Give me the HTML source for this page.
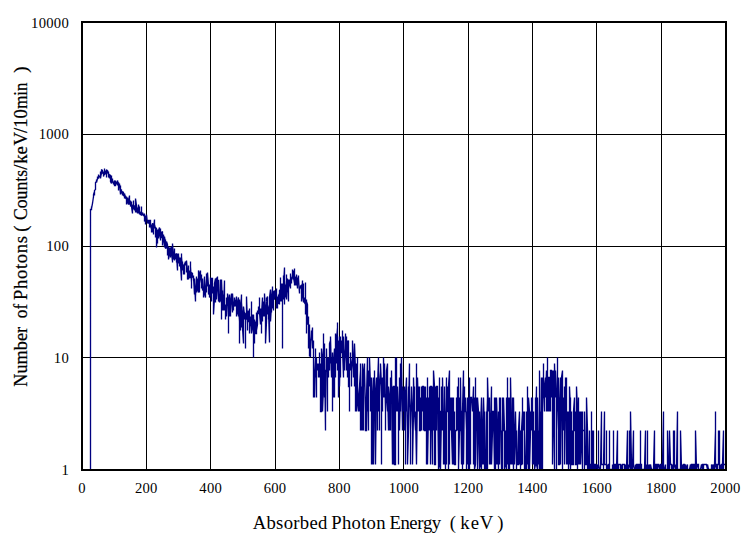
<!DOCTYPE html><html><head><meta charset="utf-8"><title>Spectrum</title><style>
html,body{margin:0;padding:0;background:#fff;}body{width:749px;height:556px;position:relative;overflow:hidden;font-family:"Liberation Serif",serif;color:#000;}
.t{position:absolute;white-space:pre;line-height:1;font-kerning:none;}
.yl{font-size:14.67px;letter-spacing:0.25px;text-align:right;width:60px;left:9px;}
.xl{font-size:14.67px;letter-spacing:0.25px;text-align:center;width:60px;}
.ti{font-size:18.67px;}.yt{-webkit-text-stroke:0.22px #000;left:0;top:0;transform-origin:0 0;}
</style></head><body>
<svg width="749" height="556" viewBox="0 0 749 556" style="position:absolute;left:0;top:0">
<rect x="0" y="0" width="749" height="556" fill="#fff"/>
<rect x="146" y="22" width="1" height="448" fill="#000"/>
<rect x="210" y="22" width="1" height="448" fill="#000"/>
<rect x="275" y="22" width="1" height="448" fill="#000"/>
<rect x="339" y="22" width="1" height="448" fill="#000"/>
<rect x="403" y="22" width="1" height="448" fill="#000"/>
<rect x="468" y="22" width="1" height="448" fill="#000"/>
<rect x="532" y="22" width="1" height="448" fill="#000"/>
<rect x="596" y="22" width="1" height="448" fill="#000"/>
<rect x="661" y="22" width="1" height="448" fill="#000"/>
<rect x="82" y="134" width="644" height="1" fill="#000"/>
<rect x="82" y="246" width="644" height="1" fill="#000"/>
<rect x="82" y="357" width="644" height="1" fill="#000"/>
<path d="M90.5 469.5L90.5 209.5L91.5 209.5L91.5 207.5L91.5 206.5L91.5 208.5L92.5 203.5L92.5 202.5L92.5 203.5L93.5 196.5L93.5 197.5L93.5 195.5L93.5 194.5L94.5 191.5L94.5 195.5L94.5 190.5L95.5 189.5L95.5 187.5L95.5 188.5L95.5 182.5L96.5 181.5L96.5 179.5L96.5 182.5L97.5 178.5L97.5 179.5L97.5 178.5L97.5 176.5L98.5 178.5L98.5 174.5L98.5 178.5L99.5 175.5L99.5 176.5L100.5 176.5L100.5 175.5L100.5 171.5L100.5 178.5L101.5 172.5L101.5 174.5L101.5 169.5L102.5 170.5L102.5 173.5L102.5 171.5L102.5 173.5L103.5 172.5L103.5 171.5L103.5 176.5L104.5 173.5L104.5 168.5L104.5 170.5L104.5 174.5L105.5 173.5L105.5 170.5L106.5 173.5L106.5 171.5L106.5 177.5L106.5 169.5L107.5 171.5L107.5 173.5L107.5 170.5L108.5 174.5L108.5 171.5L108.5 177.5L108.5 172.5L109.5 178.5L109.5 176.5L109.5 174.5L110.5 175.5L110.5 178.5L110.5 175.5L110.5 181.5L111.5 183.5L111.5 175.5L111.5 180.5L112.5 178.5L112.5 180.5L112.5 181.5L113.5 183.5L113.5 181.5L113.5 184.5L114.5 180.5L114.5 181.5L114.5 183.5L114.5 185.5L115.5 185.5L115.5 180.5L115.5 184.5L116.5 183.5L116.5 181.5L116.5 184.5L116.5 182.5L117.5 183.5L117.5 185.5L117.5 180.5L118.5 185.5L118.5 190.5L118.5 182.5L119.5 187.5L119.5 186.5L119.5 183.5L120.5 194.5L120.5 185.5L120.5 190.5L121.5 189.5L121.5 193.5L121.5 191.5L122.5 194.5L122.5 193.5L122.5 195.5L122.5 191.5L123.5 192.5L123.5 195.5L124.5 196.5L124.5 198.5L124.5 196.5L124.5 193.5L125.5 198.5L125.5 195.5L125.5 197.5L126.5 199.5L126.5 196.5L126.5 202.5L126.5 204.5L127.5 197.5L127.5 201.5L128.5 204.5L128.5 198.5L128.5 201.5L129.5 195.5L129.5 200.5L129.5 204.5L130.5 201.5L130.5 200.5L130.5 206.5L131.5 204.5L131.5 206.5L131.5 201.5L131.5 206.5L132.5 213.5L132.5 206.5L132.5 205.5L133.5 204.5L133.5 200.5L133.5 209.5L133.5 206.5L134.5 205.5L134.5 210.5L134.5 209.5L135.5 209.5L135.5 212.5L135.5 198.5L136.5 205.5L136.5 212.5L136.5 205.5L137.5 213.5L137.5 209.5L137.5 207.5L138.5 212.5L138.5 213.5L138.5 204.5L139.5 210.5L139.5 206.5L139.5 214.5L139.5 211.5L140.5 212.5L140.5 213.5L140.5 214.5L141.5 214.5L141.5 212.5L141.5 206.5L141.5 215.5L142.5 214.5L142.5 212.5L143.5 215.5L144.5 216.5L144.5 213.5L144.5 221.5L145.5 217.5L145.5 224.5L145.5 215.5L145.5 217.5L146.5 218.5L146.5 217.5L146.5 214.5L147.5 223.5L147.5 220.5L147.5 221.5L148.5 223.5L148.5 221.5L148.5 220.5L149.5 220.5L149.5 225.5L149.5 227.5L149.5 220.5L150.5 220.5L150.5 227.5L150.5 224.5L151.5 229.5L151.5 228.5L151.5 232.5L151.5 226.5L152.5 223.5L152.5 232.5L152.5 223.5L153.5 224.5L153.5 234.5L153.5 229.5L154.5 219.5L154.5 228.5L154.5 224.5L155.5 228.5L155.5 230.5L155.5 237.5L155.5 227.5L156.5 228.5L156.5 238.5L156.5 247.5L157.5 229.5L157.5 243.5L157.5 230.5L158.5 238.5L158.5 234.5L158.5 235.5L158.5 230.5L159.5 227.5L159.5 236.5L159.5 232.5L160.5 239.5L160.5 228.5L160.5 240.5L160.5 237.5L161.5 237.5L161.5 232.5L162.5 231.5L162.5 241.5L162.5 245.5L162.5 244.5L163.5 234.5L163.5 238.5L163.5 234.5L164.5 247.5L164.5 244.5L164.5 238.5L164.5 236.5L165.5 243.5L165.5 239.5L165.5 248.5L166.5 247.5L166.5 241.5L166.5 246.5L166.5 241.5L167.5 244.5L167.5 247.5L167.5 255.5L168.5 246.5L168.5 257.5L168.5 256.5L168.5 259.5L169.5 253.5L169.5 247.5L169.5 249.5L170.5 247.5L170.5 257.5L170.5 250.5L170.5 248.5L171.5 248.5L171.5 246.5L171.5 252.5L172.5 261.5L172.5 262.5L172.5 255.5L172.5 243.5L173.5 256.5L173.5 259.5L173.5 252.5L174.5 260.5L174.5 259.5L174.5 248.5L174.5 259.5L175.5 258.5L175.5 256.5L175.5 254.5L176.5 253.5L176.5 261.5L176.5 262.5L176.5 255.5L177.5 270.5L177.5 253.5L177.5 259.5L178.5 253.5L178.5 263.5L178.5 253.5L178.5 255.5L179.5 262.5L179.5 257.5L179.5 266.5L180.5 258.5L180.5 257.5L180.5 261.5L180.5 264.5L181.5 280.5L181.5 253.5L181.5 256.5L182.5 268.5L182.5 261.5L182.5 270.5L183.5 264.5L183.5 274.5L183.5 269.5L184.5 263.5L184.5 264.5L184.5 274.5L184.5 264.5L185.5 261.5L185.5 265.5L185.5 262.5L186.5 263.5L186.5 272.5L186.5 260.5L187.5 272.5L187.5 270.5L187.5 273.5L187.5 279.5L188.5 274.5L188.5 265.5L188.5 279.5L189.5 273.5L189.5 270.5L189.5 277.5L190.5 277.5L190.5 261.5L190.5 266.5L191.5 282.5L191.5 276.5L191.5 288.5L191.5 272.5L192.5 273.5L192.5 274.5L192.5 276.5L193.5 278.5L193.5 280.5L193.5 275.5L193.5 276.5L194.5 294.5L194.5 278.5L194.5 282.5L195.5 301.5L195.5 292.5L195.5 286.5L195.5 296.5L196.5 276.5L196.5 283.5L196.5 292.5L197.5 278.5L197.5 283.5L197.5 282.5L197.5 288.5L198.5 292.5L198.5 288.5L198.5 270.5L199.5 273.5L199.5 282.5L199.5 292.5L199.5 279.5L200.5 276.5L200.5 270.5L200.5 277.5L201.5 283.5L201.5 274.5L201.5 283.5L201.5 288.5L202.5 278.5L202.5 279.5L202.5 290.5L203.5 286.5L203.5 292.5L203.5 297.5L203.5 293.5L204.5 276.5L204.5 282.5L204.5 293.5L205.5 297.5L205.5 288.5L205.5 289.5L206.5 278.5L206.5 292.5L206.5 273.5L207.5 285.5L207.5 286.5L207.5 282.5L207.5 272.5L208.5 285.5L208.5 294.5L209.5 290.5L209.5 286.5L209.5 284.5L209.5 297.5L210.5 294.5L210.5 277.5L210.5 293.5L211.5 288.5L211.5 301.5L211.5 286.5L211.5 278.5L212.5 278.5L212.5 288.5L212.5 293.5L213.5 286.5L213.5 292.5L213.5 314.5L214.5 297.5L214.5 290.5L214.5 283.5L215.5 278.5L215.5 302.5L215.5 296.5L216.5 293.5L216.5 296.5L216.5 277.5L216.5 299.5L217.5 286.5L217.5 276.5L217.5 280.5L218.5 280.5L218.5 284.5L218.5 301.5L219.5 296.5L219.5 297.5L219.5 302.5L220.5 279.5L220.5 299.5L220.5 301.5L220.5 297.5L221.5 302.5L221.5 319.5L221.5 279.5L222.5 306.5L222.5 290.5L222.5 310.5L222.5 301.5L223.5 308.5L223.5 294.5L223.5 310.5L224.5 280.5L224.5 306.5L224.5 294.5L224.5 310.5L225.5 304.5L225.5 319.5L225.5 312.5L226.5 306.5L226.5 302.5L226.5 297.5L226.5 316.5L227.5 299.5L227.5 304.5L227.5 293.5L228.5 299.5L228.5 333.5L228.5 297.5L228.5 301.5L229.5 310.5L229.5 316.5L229.5 294.5L230.5 316.5L230.5 312.5L230.5 314.5L230.5 304.5L231.5 293.5L231.5 304.5L231.5 299.5L232.5 312.5L232.5 310.5L232.5 301.5L232.5 293.5L233.5 308.5L233.5 310.5L233.5 301.5L234.5 306.5L234.5 297.5L234.5 306.5L234.5 299.5L235.5 301.5L235.5 306.5L236.5 296.5L236.5 316.5L236.5 308.5L236.5 316.5L237.5 306.5L237.5 314.5L237.5 302.5L238.5 297.5L238.5 316.5L238.5 312.5L238.5 306.5L239.5 321.5L239.5 343.5L239.5 299.5L240.5 312.5L240.5 308.5L240.5 330.5L240.5 314.5L241.5 294.5L241.5 327.5L241.5 302.5L242.5 316.5L242.5 310.5L242.5 327.5L243.5 343.5L243.5 336.5L243.5 312.5L243.5 306.5L244.5 314.5L244.5 319.5L244.5 312.5L245.5 314.5L245.5 348.5L245.5 336.5L245.5 316.5L246.5 319.5L246.5 306.5L246.5 296.5L247.5 324.5L247.5 330.5L247.5 314.5L247.5 319.5L248.5 310.5L248.5 321.5L249.5 321.5L249.5 308.5L249.5 330.5L249.5 333.5L250.5 316.5L251.5 327.5L251.5 316.5L251.5 301.5L251.5 333.5L252.5 327.5L252.5 314.5L253.5 327.5L253.5 357.5L253.5 343.5L253.5 314.5L254.5 343.5L254.5 319.5L255.5 330.5L255.5 324.5L255.5 321.5L255.5 333.5L256.5 333.5L256.5 312.5L256.5 330.5L257.5 324.5L257.5 310.5L258.5 312.5L258.5 306.5L258.5 312.5L259.5 314.5L259.5 304.5L259.5 297.5L259.5 312.5L260.5 324.5L260.5 314.5L260.5 308.5L261.5 321.5L261.5 333.5L261.5 314.5L262.5 297.5L262.5 321.5L262.5 310.5L263.5 312.5L263.5 306.5L263.5 316.5L263.5 301.5L264.5 314.5L264.5 316.5L264.5 293.5L265.5 314.5L265.5 304.5L265.5 314.5L265.5 343.5L266.5 321.5L266.5 297.5L266.5 301.5L267.5 296.5L267.5 312.5L267.5 314.5L267.5 304.5L268.5 308.5L268.5 319.5L268.5 308.5L269.5 342.5L269.5 301.5L269.5 302.5L269.5 297.5L270.5 289.5L270.5 304.5L270.5 321.5L271.5 304.5L271.5 312.5L271.5 297.5L272.5 288.5L272.5 286.5L272.5 308.5L272.5 302.5L273.5 297.5L273.5 310.5L273.5 292.5L274.5 290.5L274.5 293.5L274.5 299.5L275.5 294.5L275.5 292.5L275.5 294.5L276.5 288.5L276.5 308.5L276.5 296.5L276.5 308.5L277.5 296.5L277.5 308.5L277.5 304.5L278.5 302.5L278.5 301.5L278.5 294.5L278.5 299.5L279.5 292.5L279.5 304.5L279.5 290.5L280.5 289.5L280.5 277.5L280.5 301.5L280.5 292.5L281.5 294.5L281.5 301.5L281.5 283.5L282.5 302.5L282.5 348.5L282.5 294.5L282.5 283.5L283.5 299.5L283.5 275.5L283.5 285.5L284.5 267.5L284.5 304.5L284.5 290.5L284.5 280.5L285.5 294.5L285.5 297.5L285.5 284.5L286.5 299.5L286.5 274.5L286.5 288.5L286.5 292.5L287.5 289.5L287.5 278.5L287.5 283.5L288.5 301.5L288.5 282.5L288.5 286.5L288.5 279.5L289.5 286.5L289.5 279.5L289.5 282.5L290.5 288.5L290.5 273.5L290.5 280.5L290.5 274.5L291.5 283.5L291.5 279.5L291.5 280.5L292.5 276.5L292.5 278.5L292.5 269.5L292.5 278.5L293.5 270.5L293.5 279.5L293.5 277.5L294.5 283.5L294.5 268.5L294.5 285.5L294.5 277.5L295.5 285.5L295.5 284.5L295.5 276.5L296.5 285.5L296.5 276.5L296.5 277.5L296.5 274.5L297.5 288.5L297.5 277.5L297.5 279.5L298.5 282.5L298.5 284.5L298.5 275.5L298.5 278.5L299.5 293.5L299.5 289.5L300.5 286.5L300.5 288.5L300.5 285.5L301.5 286.5L301.5 284.5L301.5 285.5L301.5 301.5L302.5 280.5L302.5 284.5L302.5 292.5L303.5 302.5L303.5 301.5L303.5 283.5L303.5 299.5L304.5 297.5L304.5 299.5L304.5 302.5L305.5 304.5L305.5 282.5L305.5 314.5L305.5 301.5L306.5 299.5L306.5 333.5L306.5 301.5L307.5 304.5L307.5 312.5L307.5 324.5L308.5 321.5L308.5 316.5L308.5 348.5L309.5 324.5L309.5 356.5L309.5 336.5L310.5 357.5L310.5 352.5L310.5 348.5L311.5 330.5L311.5 333.5L311.5 340.5L312.5 327.5L312.5 348.5L312.5 343.5L313.5 340.5L313.5 397.5L313.5 357.5L313.5 370.5L314.5 370.5L314.5 397.5L314.5 377.5L315.5 357.5L315.5 377.5L315.5 348.5L315.5 357.5L316.5 397.5L316.5 357.5L316.5 363.5L317.5 370.5L317.5 363.5L317.5 370.5L318.5 363.5L318.5 377.5L318.5 363.5L319.5 377.5L319.5 363.5L319.5 352.5L319.5 370.5L320.5 363.5L320.5 386.5L320.5 411.5L321.5 411.5L321.5 363.5L321.5 357.5L321.5 348.5L322.5 357.5L322.5 370.5L322.5 411.5L323.5 386.5L323.5 363.5L323.5 333.5L323.5 386.5L324.5 343.5L324.5 397.5L324.5 348.5L325.5 430.5L325.5 377.5L325.5 397.5L325.5 370.5L326.5 370.5L326.5 357.5L326.5 348.5L327.5 411.5L327.5 377.5L327.5 363.5L327.5 357.5L328.5 363.5L328.5 377.5L328.5 357.5L329.5 370.5L329.5 363.5L329.5 343.5L330.5 340.5L330.5 352.5L330.5 363.5L330.5 336.5L331.5 377.5L331.5 363.5L331.5 357.5L332.5 377.5L332.5 411.5L332.5 352.5L332.5 357.5L333.5 386.5L333.5 397.5L333.5 363.5L334.5 348.5L334.5 397.5L334.5 357.5L335.5 377.5L335.5 370.5L335.5 333.5L336.5 363.5L336.5 357.5L336.5 352.5L336.5 340.5L337.5 327.5L337.5 322.5L337.5 370.5L338.5 357.5L338.5 370.5L338.5 340.5L338.5 397.5L339.5 336.5L339.5 340.5L339.5 386.5L340.5 336.5L340.5 352.5L340.5 377.5L340.5 352.5L341.5 352.5L341.5 340.5L341.5 348.5L342.5 340.5L342.5 357.5L342.5 330.5L342.5 348.5L343.5 377.5L343.5 336.5L343.5 348.5L344.5 370.5L344.5 363.5L344.5 370.5L344.5 363.5L345.5 336.5L345.5 352.5L345.5 333.5L346.5 370.5L346.5 336.5L346.5 370.5L346.5 357.5L347.5 340.5L347.5 377.5L347.5 343.5L348.5 340.5L348.5 370.5L348.5 357.5L348.5 386.5L349.5 386.5L349.5 411.5L349.5 363.5L350.5 370.5L350.5 352.5L350.5 370.5L350.5 357.5L351.5 370.5L351.5 386.5L351.5 370.5L352.5 357.5L352.5 340.5L353.5 377.5L353.5 370.5L353.5 377.5L354.5 343.5L354.5 377.5L354.5 386.5L354.5 343.5L355.5 370.5L355.5 397.5L355.5 411.5L356.5 370.5L356.5 363.5L356.5 397.5L356.5 411.5L357.5 386.5L357.5 357.5L357.5 397.5L358.5 411.5L358.5 397.5L359.5 386.5L359.5 397.5L359.5 411.5L359.5 386.5L360.5 370.5L360.5 430.5L360.5 363.5L361.5 430.5L361.5 411.5L361.5 386.5L362.5 430.5L362.5 363.5L363.5 377.5L363.5 430.5L363.5 386.5L364.5 363.5L364.5 386.5L364.5 370.5L365.5 411.5L365.5 397.5L365.5 411.5L365.5 430.5L366.5 430.5L366.5 411.5L366.5 397.5L367.5 357.5L367.5 411.5L367.5 370.5L367.5 386.5L368.5 430.5L368.5 370.5L368.5 377.5L369.5 377.5L369.5 357.5L369.5 386.5L369.5 357.5L370.5 386.5L370.5 411.5L370.5 386.5L371.5 386.5L371.5 464.5L371.5 430.5L371.5 377.5L372.5 411.5L372.5 464.5L372.5 430.5L373.5 377.5L373.5 430.5L373.5 464.5L374.5 397.5L374.5 370.5L374.5 377.5L375.5 397.5L375.5 430.5L375.5 397.5L375.5 464.5L376.5 377.5L376.5 397.5L376.5 411.5L377.5 386.5L377.5 411.5L377.5 430.5L377.5 386.5L378.5 357.5L378.5 411.5L378.5 370.5L379.5 397.5L379.5 430.5L379.5 411.5L379.5 397.5L380.5 370.5L380.5 377.5L380.5 363.5L381.5 386.5L381.5 411.5L381.5 464.5L381.5 386.5L382.5 411.5L382.5 377.5L382.5 386.5L383.5 397.5L383.5 363.5L383.5 397.5L383.5 357.5L384.5 397.5L384.5 363.5L385.5 411.5L385.5 430.5L385.5 411.5L386.5 397.5L386.5 370.5L387.5 363.5L387.5 411.5L387.5 386.5L388.5 430.5L388.5 386.5L389.5 397.5L389.5 430.5L389.5 411.5L390.5 411.5L390.5 430.5L390.5 386.5L390.5 377.5L391.5 397.5L391.5 370.5L392.5 464.5L392.5 430.5L392.5 386.5L393.5 464.5L393.5 430.5L393.5 386.5L394.5 386.5L394.5 430.5L394.5 411.5L394.5 464.5L395.5 464.5L395.5 411.5L395.5 357.5L396.5 411.5L396.5 357.5L396.5 377.5L396.5 397.5L397.5 397.5L397.5 411.5L397.5 386.5L398.5 411.5L398.5 464.5L398.5 430.5L399.5 411.5L399.5 377.5L399.5 430.5L400.5 386.5L400.5 363.5L400.5 411.5L401.5 357.5L401.5 397.5L401.5 357.5L402.5 430.5L402.5 411.5L402.5 386.5L403.5 411.5L403.5 397.5L404.5 386.5L404.5 411.5L404.5 386.5L404.5 430.5L405.5 411.5L405.5 464.5L405.5 397.5L406.5 377.5L406.5 411.5L406.5 386.5L407.5 430.5L407.5 464.5L408.5 430.5L408.5 397.5L408.5 386.5L408.5 411.5L409.5 363.5L409.5 397.5L409.5 386.5L410.5 430.5L410.5 464.5L410.5 430.5L411.5 397.5L411.5 411.5L411.5 386.5L412.5 411.5L412.5 430.5L412.5 464.5L413.5 411.5L413.5 397.5L413.5 377.5L414.5 411.5L414.5 386.5L414.5 411.5L415.5 430.5L415.5 411.5L416.5 464.5L416.5 363.5L416.5 464.5L417.5 386.5L417.5 397.5L417.5 377.5L418.5 411.5L418.5 386.5L418.5 397.5L419.5 386.5L419.5 397.5L419.5 430.5L420.5 430.5L420.5 397.5L421.5 411.5L421.5 430.5L421.5 386.5L421.5 397.5L422.5 411.5L422.5 386.5L423.5 386.5L423.5 397.5L423.5 430.5L423.5 397.5L424.5 386.5L424.5 430.5L425.5 430.5L425.5 386.5L425.5 411.5L426.5 430.5L426.5 464.5L426.5 397.5L427.5 430.5L427.5 377.5L427.5 386.5L427.5 464.5L428.5 411.5L428.5 397.5L429.5 411.5L429.5 386.5L429.5 430.5L430.5 386.5L430.5 464.5L430.5 386.5L431.5 386.5L431.5 397.5L431.5 430.5L431.5 411.5L432.5 464.5L432.5 386.5L432.5 411.5L433.5 397.5L433.5 430.5L433.5 370.5L434.5 386.5L434.5 430.5L434.5 464.5L435.5 464.5L435.5 430.5L435.5 386.5L436.5 430.5L436.5 411.5L436.5 386.5L437.5 386.5L437.5 397.5L437.5 386.5L438.5 464.5L438.5 397.5L438.5 469.5L439.5 464.5L439.5 377.5L439.5 397.5L439.5 411.5L440.5 411.5L440.5 430.5L440.5 469.5L441.5 411.5L441.5 397.5L441.5 411.5L441.5 386.5L442.5 430.5L442.5 377.5L443.5 430.5L443.5 464.5L443.5 411.5L444.5 430.5L444.5 386.5L444.5 464.5L444.5 397.5L445.5 469.5L445.5 411.5L445.5 464.5L446.5 377.5L446.5 411.5L446.5 464.5L446.5 411.5L447.5 411.5L447.5 386.5L447.5 397.5L448.5 397.5L448.5 469.5L448.5 386.5L449.5 370.5L449.5 464.5L449.5 430.5L450.5 411.5L450.5 430.5L450.5 397.5L451.5 411.5L451.5 397.5L451.5 430.5L452.5 464.5L452.5 397.5L452.5 430.5L452.5 411.5L453.5 464.5L453.5 397.5L453.5 464.5L454.5 430.5L454.5 411.5L454.5 464.5L455.5 464.5L455.5 430.5L456.5 430.5L456.5 411.5L456.5 397.5L456.5 411.5L457.5 430.5L457.5 386.5L457.5 397.5L458.5 411.5L458.5 377.5L458.5 411.5L458.5 469.5L459.5 430.5L459.5 397.5L459.5 430.5L460.5 430.5L460.5 377.5L461.5 464.5L461.5 411.5L462.5 411.5L462.5 430.5L462.5 469.5L462.5 411.5L463.5 370.5L463.5 464.5L464.5 386.5L464.5 411.5L464.5 397.5L464.5 411.5L465.5 411.5L465.5 397.5L466.5 430.5L466.5 469.5L466.5 430.5L466.5 411.5L467.5 464.5L467.5 397.5L468.5 411.5L468.5 397.5L468.5 469.5L468.5 464.5L469.5 377.5L469.5 469.5L469.5 397.5L470.5 397.5L470.5 411.5L470.5 464.5L470.5 397.5L471.5 397.5L472.5 411.5L473.5 386.5L473.5 411.5L473.5 397.5L473.5 464.5L474.5 430.5L474.5 397.5L474.5 469.5L475.5 464.5L475.5 377.5L475.5 411.5L475.5 397.5L476.5 430.5L476.5 397.5L476.5 411.5L477.5 464.5L477.5 469.5L477.5 464.5L477.5 397.5L478.5 411.5L478.5 430.5L479.5 469.5L479.5 464.5L479.5 411.5L479.5 469.5L480.5 464.5L480.5 430.5L481.5 397.5L481.5 469.5L481.5 397.5L482.5 430.5L482.5 464.5L482.5 430.5L483.5 464.5L483.5 430.5L483.5 397.5L484.5 430.5L484.5 411.5L484.5 469.5L485.5 464.5L485.5 469.5L486.5 411.5L486.5 469.5L486.5 430.5L487.5 397.5L487.5 469.5L487.5 397.5L487.5 377.5L488.5 411.5L489.5 397.5L489.5 411.5L489.5 464.5L489.5 411.5L490.5 464.5L490.5 430.5L491.5 386.5L491.5 430.5L491.5 464.5L492.5 430.5L492.5 411.5L493.5 411.5L493.5 430.5L493.5 411.5L494.5 469.5L494.5 411.5L494.5 397.5L495.5 430.5L495.5 469.5L495.5 397.5L496.5 430.5L496.5 464.5L496.5 397.5L497.5 430.5L497.5 464.5L497.5 430.5L498.5 469.5L498.5 411.5L498.5 464.5L499.5 411.5L499.5 464.5L499.5 397.5L499.5 430.5L500.5 397.5L500.5 430.5L500.5 411.5L501.5 469.5L501.5 430.5L502.5 469.5L502.5 397.5L502.5 469.5L502.5 430.5L503.5 430.5L503.5 411.5L503.5 397.5L504.5 430.5L504.5 464.5L504.5 469.5L505.5 464.5L505.5 430.5L506.5 464.5L506.5 469.5L506.5 464.5L506.5 397.5L507.5 430.5L507.5 377.5L507.5 464.5L508.5 397.5L508.5 430.5L508.5 469.5L508.5 430.5L509.5 469.5L509.5 464.5L509.5 397.5L510.5 464.5L510.5 411.5L510.5 464.5L510.5 377.5L511.5 430.5L511.5 464.5L511.5 430.5L512.5 464.5L512.5 411.5L512.5 397.5L512.5 430.5L513.5 469.5L513.5 430.5L513.5 397.5L514.5 464.5L514.5 430.5L514.5 464.5L515.5 411.5L515.5 430.5L515.5 411.5L516.5 464.5L516.5 469.5L516.5 464.5L516.5 430.5L517.5 464.5L518.5 464.5L518.5 430.5L519.5 411.5L519.5 464.5L520.5 430.5L520.5 469.5L520.5 464.5L521.5 464.5L521.5 430.5L522.5 411.5L522.5 397.5L522.5 464.5L522.5 430.5L523.5 411.5L523.5 430.5L524.5 411.5L524.5 469.5L524.5 411.5L524.5 430.5L525.5 469.5L525.5 464.5L526.5 469.5L526.5 464.5L526.5 411.5L526.5 430.5L527.5 464.5L527.5 386.5L527.5 430.5L528.5 469.5L528.5 464.5L528.5 430.5L528.5 397.5L529.5 411.5L529.5 469.5L530.5 430.5L530.5 411.5L530.5 430.5L531.5 411.5L531.5 397.5L531.5 430.5L532.5 397.5L532.5 464.5L533.5 411.5L533.5 464.5L533.5 430.5L534.5 464.5L534.5 430.5L534.5 469.5L535.5 464.5L535.5 397.5L535.5 411.5L535.5 430.5L536.5 386.5L536.5 464.5L537.5 469.5L537.5 464.5L537.5 397.5L538.5 464.5L538.5 430.5L539.5 469.5L539.5 411.5L539.5 430.5L539.5 370.5L540.5 469.5L540.5 430.5L540.5 411.5L541.5 469.5L541.5 411.5L541.5 386.5L541.5 377.5L542.5 469.5L542.5 377.5L542.5 397.5L543.5 397.5L543.5 386.5L543.5 363.5L543.5 386.5L544.5 411.5L544.5 386.5L545.5 377.5L545.5 397.5L546.5 370.5L546.5 411.5L547.5 397.5L547.5 411.5L547.5 357.5L547.5 411.5L548.5 397.5L548.5 411.5L548.5 377.5L549.5 377.5L549.5 411.5L549.5 397.5L549.5 386.5L550.5 411.5L550.5 370.5L551.5 370.5L551.5 386.5L551.5 397.5L551.5 386.5L552.5 386.5L552.5 370.5L552.5 464.5L553.5 377.5L553.5 370.5L553.5 386.5L553.5 370.5L554.5 469.5L554.5 370.5L554.5 363.5L555.5 397.5L555.5 370.5L555.5 397.5L555.5 370.5L556.5 397.5L556.5 469.5L556.5 430.5L557.5 397.5L557.5 411.5L557.5 357.5L557.5 386.5L558.5 377.5L558.5 464.5L559.5 464.5L559.5 397.5L559.5 411.5L560.5 377.5L560.5 397.5L560.5 386.5L560.5 464.5L561.5 397.5L561.5 411.5L561.5 377.5L562.5 370.5L562.5 469.5L562.5 377.5L562.5 430.5L563.5 397.5L563.5 411.5L563.5 430.5L564.5 397.5L564.5 386.5L564.5 464.5L565.5 397.5L565.5 377.5L566.5 386.5L566.5 377.5L566.5 464.5L566.5 430.5L567.5 464.5L567.5 411.5L567.5 430.5L568.5 411.5L568.5 430.5L568.5 464.5L568.5 469.5L569.5 411.5L569.5 464.5L569.5 386.5L570.5 411.5L570.5 397.5L570.5 469.5L571.5 411.5L571.5 430.5L571.5 464.5L572.5 464.5L572.5 430.5L572.5 464.5L573.5 464.5L573.5 411.5L574.5 397.5L574.5 411.5L574.5 430.5L575.5 430.5L575.5 411.5L575.5 464.5L576.5 464.5L576.5 397.5L576.5 430.5L576.5 386.5L577.5 411.5L577.5 469.5L577.5 411.5L578.5 464.5L578.5 397.5L578.5 464.5L578.5 430.5L579.5 464.5L579.5 411.5L579.5 430.5L580.5 464.5L580.5 411.5L580.5 464.5L581.5 430.5L581.5 411.5L582.5 469.5L582.5 411.5L582.5 430.5L583.5 430.5L584.5 430.5L584.5 464.5L584.5 469.5L584.5 411.5L585.5 464.5L586.5 464.5L586.5 397.5L587.5 430.5L587.5 469.5L587.5 464.5L588.5 464.5L588.5 469.5L589.5 430.5L589.5 469.5L589.5 464.5L590.5 464.5L590.5 469.5L591.5 464.5L591.5 411.5L591.5 469.5L591.5 464.5L592.5 430.5L592.5 469.5L593.5 430.5L593.5 464.5L593.5 469.5L594.5 469.5L594.5 464.5L595.5 464.5L595.5 469.5L596.5 464.5L597.5 469.5L597.5 464.5L597.5 469.5L598.5 464.5L598.5 430.5L598.5 464.5L599.5 469.5L600.5 469.5L601.5 411.5L601.5 464.5L602.5 464.5L603.5 464.5L603.5 469.5L603.5 464.5L604.5 411.5L604.5 464.5L605.5 464.5L606.5 464.5L606.5 430.5L606.5 469.5L607.5 464.5L607.5 469.5L608.5 464.5L608.5 469.5L608.5 464.5L609.5 464.5L609.5 469.5L609.5 430.5L609.5 469.5L610.5 469.5L611.5 469.5L612.5 469.5L612.5 464.5L612.5 469.5L613.5 469.5L613.5 430.5L613.5 464.5L614.5 464.5L614.5 469.5L615.5 464.5L615.5 469.5L615.5 464.5L616.5 464.5L616.5 469.5L617.5 430.5L617.5 469.5L618.5 469.5L618.5 464.5L619.5 464.5L620.5 464.5L620.5 469.5L621.5 464.5L621.5 469.5L622.5 464.5L622.5 469.5L622.5 464.5L623.5 464.5L624.5 464.5L624.5 469.5L625.5 469.5L625.5 464.5L625.5 469.5L626.5 469.5L627.5 430.5L627.5 464.5L627.5 469.5L628.5 469.5L628.5 464.5L628.5 469.5L629.5 464.5L629.5 430.5L630.5 469.5L630.5 411.5L631.5 464.5L631.5 469.5L632.5 469.5L632.5 464.5L632.5 469.5L633.5 430.5L633.5 464.5L634.5 469.5L635.5 469.5L635.5 464.5L636.5 469.5L636.5 464.5L637.5 464.5L637.5 469.5L638.5 469.5L638.5 464.5L639.5 464.5L639.5 469.5L640.5 469.5L640.5 430.5L640.5 469.5L640.5 464.5L641.5 464.5L641.5 469.5L642.5 469.5L643.5 469.5L644.5 469.5L645.5 430.5L645.5 469.5L645.5 464.5L646.5 469.5L646.5 464.5L646.5 469.5L647.5 464.5L647.5 430.5L647.5 469.5L648.5 469.5L648.5 464.5L648.5 469.5L649.5 469.5L649.5 464.5L650.5 469.5L650.5 464.5L651.5 469.5L652.5 469.5L653.5 469.5L654.5 430.5L654.5 469.5L654.5 464.5L655.5 464.5L655.5 469.5L656.5 469.5L656.5 464.5L657.5 464.5L657.5 469.5L657.5 464.5L658.5 464.5L659.5 469.5L659.5 464.5L660.5 469.5L660.5 464.5L661.5 464.5L661.5 469.5L662.5 464.5L662.5 469.5L662.5 464.5L663.5 411.5L663.5 469.5L663.5 464.5L664.5 469.5L665.5 469.5L665.5 464.5L665.5 469.5L666.5 469.5L667.5 469.5L667.5 464.5L667.5 430.5L668.5 469.5L669.5 469.5L669.5 464.5L669.5 430.5L670.5 464.5L671.5 464.5L671.5 469.5L672.5 469.5L672.5 464.5L672.5 469.5L673.5 464.5L673.5 430.5L673.5 469.5L674.5 430.5L674.5 464.5L675.5 469.5L675.5 464.5L676.5 469.5L676.5 464.5L676.5 469.5L677.5 411.5L677.5 464.5L677.5 469.5L678.5 469.5L679.5 469.5L680.5 469.5L680.5 464.5L680.5 430.5L681.5 469.5L682.5 464.5L682.5 469.5L683.5 469.5L683.5 464.5L684.5 464.5L684.5 469.5L685.5 469.5L685.5 464.5L686.5 469.5L687.5 464.5L687.5 469.5L688.5 469.5L689.5 469.5L690.5 464.5L690.5 469.5L690.5 464.5L691.5 469.5L691.5 464.5L692.5 464.5L692.5 469.5L693.5 469.5L693.5 464.5L694.5 464.5L694.5 469.5L695.5 469.5L695.5 464.5L695.5 430.5L696.5 469.5L696.5 464.5L696.5 469.5L697.5 464.5L698.5 464.5L698.5 469.5L699.5 469.5L700.5 469.5L701.5 464.5L702.5 469.5L702.5 464.5L703.5 464.5L703.5 469.5L703.5 464.5L704.5 464.5L705.5 464.5L706.5 464.5L707.5 469.5L707.5 464.5L708.5 469.5L709.5 469.5L710.5 469.5L711.5 469.5L711.5 464.5L712.5 469.5L712.5 464.5L712.5 469.5L713.5 464.5L713.5 469.5L714.5 469.5L714.5 464.5L715.5 430.5L715.5 464.5L715.5 411.5L715.5 464.5L716.5 469.5L716.5 464.5L717.5 464.5L717.5 469.5L717.5 464.5L718.5 464.5L718.5 430.5L718.5 464.5L719.5 430.5L719.5 464.5L719.5 469.5L720.5 469.5L720.5 464.5L721.5 469.5L721.5 464.5L722.5 464.5L722.5 469.5L722.5 464.5L723.5 430.5L723.5 469.5L723.5 464.5L724.5 464.5L725.5 464.5" fill="none" stroke="#000080" stroke-width="1.33" stroke-linejoin="miter" stroke-miterlimit="2"/>
<rect x="82" y="22" width="644" height="448" fill="none" stroke="#000" stroke-width="2"/>
</svg>
<div class="t yl" style="top:15.7px">10000</div>
<div class="t yl" style="top:127.0px">1000</div>
<div class="t yl" style="top:238.7px">100</div>
<div class="t yl" style="top:350.7px">10</div>
<div class="t yl" style="top:462.9px">1</div>
<div class="t xl" style="left:52.0px;top:481.4px">0</div>
<div class="t xl" style="left:116.3px;top:481.4px">200</div>
<div class="t xl" style="left:180.7px;top:481.4px">400</div>
<div class="t xl" style="left:245.0px;top:481.4px">600</div>
<div class="t xl" style="left:309.4px;top:481.4px">800</div>
<div class="t xl" style="left:373.8px;top:481.4px">1000</div>
<div class="t xl" style="left:438.1px;top:481.4px">1200</div>
<div class="t xl" style="left:502.4px;top:481.4px">1400</div>
<div class="t xl" style="left:566.8px;top:481.4px">1600</div>
<div class="t xl" style="left:631.1px;top:481.4px">1800</div>
<div class="t xl" style="left:695.5px;top:481.4px">2000</div>
<div class="t ti" style="left:252.71px;top:514.37px;letter-spacing:0.304px">Absorbed</div>
<div class="t ti" style="left:331.34px;top:514.37px;letter-spacing:0.266px">Photon</div>
<div class="t ti" style="left:389.54px;top:514.37px;letter-spacing:-0.452px">Energy</div>
<div class="t ti" style="left:449.86px;top:514.37px;letter-spacing:0.000px">(</div>
<div class="t ti" style="left:460.33px;top:514.37px;letter-spacing:0.000px">k</div>
<div class="t ti" style="left:470.75px;top:514.37px;letter-spacing:0.804px">eV</div>
<div class="t ti" style="left:497.19px;top:514.37px;letter-spacing:0.000px">)</div>
<div class="t ti yt" style="transform:translate(12.37px,386.75px) rotate(-90deg) scaleX(0.9790)">Number</div>
<div class="t ti yt" style="transform:translate(12.37px,318.15px) rotate(-90deg) scaleX(0.9230)">of</div>
<div class="t ti yt" style="transform:translate(12.37px,300.06px) rotate(-90deg);letter-spacing:0.645px">Photons</div>
<div class="t ti yt" style="transform:translate(12.37px,231.74px) rotate(-90deg);letter-spacing:0.000px">(</div>
<div class="t ti yt" style="transform:translate(12.37px,220.11px) rotate(-90deg) scaleX(0.9499)">Counts</div>
<div class="t ti yt" style="transform:translate(12.37px,169.80px) rotate(-90deg);letter-spacing:0.000px">/</div>
<div class="t ti yt" style="transform:translate(12.37px,163.67px) rotate(-90deg);letter-spacing:-0.116px">ke</div>
<div class="t ti yt" style="transform:translate(12.37px,145.53px) rotate(-90deg);letter-spacing:0.000px">V</div>
<div class="t ti yt" style="transform:translate(12.37px,133.10px) rotate(-90deg);letter-spacing:0.000px">/</div>
<div class="t ti yt" style="transform:translate(12.37px,127.63px) rotate(-90deg);letter-spacing:-0.136px">10</div>
<div class="t ti yt" style="transform:translate(12.37px,108.84px) rotate(-90deg) scaleX(0.9087)">min</div>
<div class="t ti yt" style="transform:translate(12.37px,72.81px) rotate(-90deg);letter-spacing:0.000px">)</div>
</body></html>
